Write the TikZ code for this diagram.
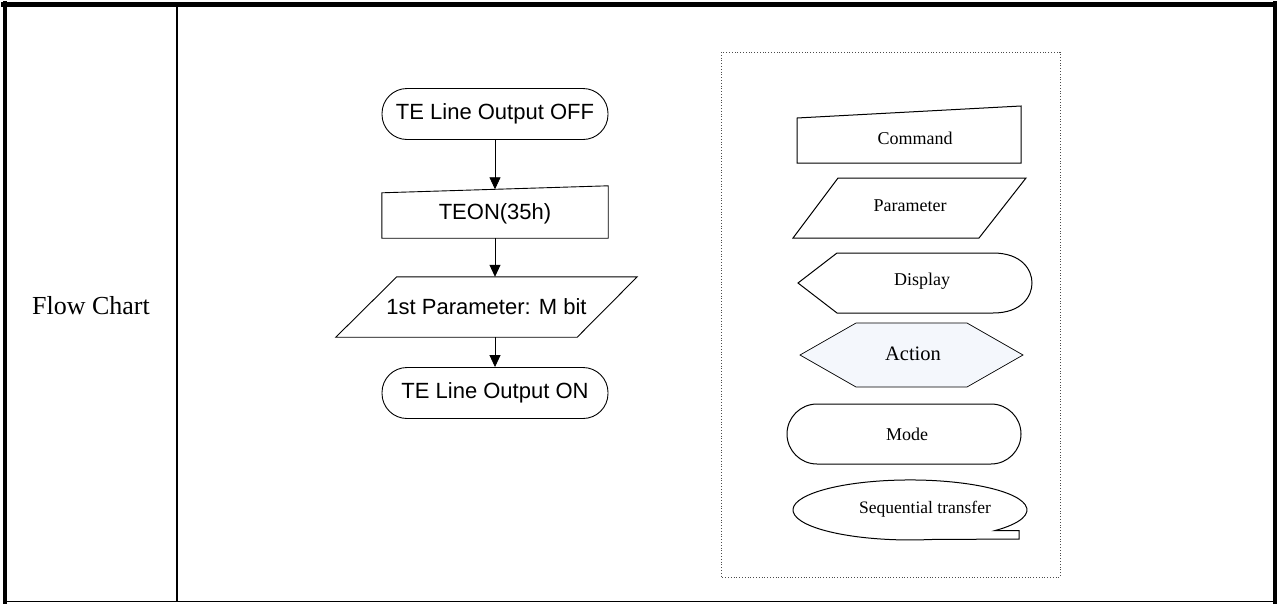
\documentclass[tikz,border=0pt]{standalone}
\usepackage{fontspec}
\setmainfont{Liberation Serif}
\newfontfamily\arialfont{Liberation Sans}
\usetikzlibrary{arrows.meta}
\definecolor{actionfill}{RGB}{244,247,252}

\begin{document}
\begin{tikzpicture}[x=1pt, y=-1pt,
    rule/.style={draw=black, line cap=rect},
    flowtext/.style={font=\arialfont\fontsize{22}{26}\selectfont},
    term/.style={flowtext, draw, rounded corners=25pt, line width=0.9pt,
                 minimum width=226pt, minimum height=51pt},
    flowbox/.style={flowtext, inner sep=0pt},
    outline/.style={draw, line width=0.9pt, line join=miter},
    keybox/.style={draw, line width=1pt},
    keytext/.style={font=\fontsize{18}{22}\selectfont},
    link/.style={line width=0.8pt, -{Triangle[length=12pt,width=11pt]}}
]
\useasboundingbox (0,0) rectangle (1277,603);

\draw[rule, line width=5pt] (3,4.5) -- (1277,4.5);
\draw[rule, line width=4pt] (5,3) -- (5,603);
\draw[rule, line width=2.5pt] (177,7) -- (177,601);
\draw[rule, line width=4pt] (1275,3) -- (1275,603);
\draw[rule, line width=1.5pt] (5,601.5) -- (1275,601.5);

\node[font=\fontsize{26}{30}\selectfont] (title) at (91,306) {Flow Chart};

\node[term] (off) at (495,114) {TE Line Output OFF};
\node[flowbox, minimum width=226pt, minimum height=48.5pt] (cmd) at (495,213.75) {TEON(35h)};
\draw[outline] (cmd.south west) -- (cmd.south east) -- ([yshift=3.5pt]cmd.north east)
    -- ([yshift=-3.5pt]cmd.north west) -- cycle;
\node[flowbox, minimum width=301pt, minimum height=60pt] (par) at (486.5,307) {1st Parameter: M bit};
\draw[outline] ([xshift=61pt]par.north west) -- (par.north east)
    -- ([xshift=-60pt]par.south east) -- (par.south west) -- cycle;
\node[term] (on) at (495,393) {TE Line Output ON};

\draw[link] (off.south) -- (cmd.north);
\draw[link] (cmd.south) -- (cmd.south |- par.north);
\draw[link] (on.north |- par.south) -- (on.north);

\draw[dotted, line width=0.8pt, black!70] (721,52) rectangle (1060,577);

\draw[keybox] (797,163) -- (1021,163) -- (1021,106) -- (797,118) -- cycle;
\node[keytext] (kcmd) at (915,138) {Command};

\draw[keybox] (838,178) -- (1026,178) -- (979,238) -- (793,238) -- cycle;
\node[keytext] (kpar) at (910,206) {Parameter};

\draw[keybox] (798,283) -- (837,253) -- (993,253)
    .. controls (1022,253) and (1032,270) .. (1032,283)
    .. controls (1032,296) and (1022,313) .. (993,313) -- (837,313) -- cycle;
\node[keytext] (kdisp) at (922,281) {Display};

\draw[line width=0.7pt, fill=actionfill] (800,355) -- (856,323) -- (967,323)
    -- (1023,355) -- (967,387) -- (856,387) -- cycle;
\node[keytext, font=\fontsize{20.5}{24}\selectfont] (kact) at (913,354) {Action};

\draw[keybox, rounded corners=30pt] (787,404) rectangle (1021,464);
\node[keytext] (kmode) at (907,434) {Mode};

\draw[keybox] (930.3,539.5) arc[start angle=80, end angle=403.4, x radius=117, y radius=30]
    -- (1019,530.6) -- (1019,539) -- cycle;
\node[keytext, font=\fontsize{17.5}{21}\selectfont] (kseq) at (925,509) {Sequential transfer};
\end{tikzpicture}
\end{document}
